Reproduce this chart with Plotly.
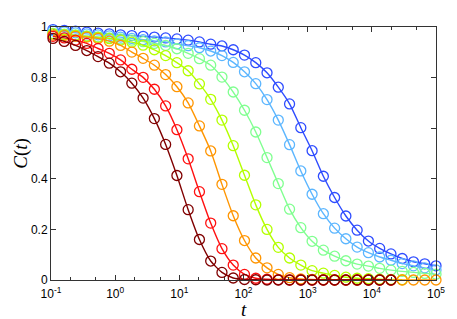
import plotly.graph_objects as go

# sample times (log-spaced grid)
t_vals = [0.1074, 0.1609, 0.2410, 0.3612, 0.5411, 0.8105, 1.214, 1.819, 2.726, 4.083,
          6.117, 9.167, 13.73, 20.57, 30.82, 46.17, 69.18, 103.6, 155.3, 232.6,
          348.5, 522.1, 782.2, 1172, 1756, 2630, 3941, 5904, 8845, 13250,
          19860, 29750, 44570, 66760, 100000]

c_darkred = [0.955, 0.943, 0.927, 0.907, 0.883, 0.857, 0.823, 0.778, 0.719, 0.638,
             0.536, 0.413, 0.278, 0.160, 0.075, 0.030, 0.008, 0.002, 0.001, 0.0,
             0.0, 0.0, 0.0, 0.0, 0.0, 0.0, 0.0, 0.0, 0.0, 0.0, 0.0]
c_red = [0.963, 0.957, 0.948, 0.935, 0.915, 0.896, 0.870, 0.833, 0.801, 0.754,
         0.688, 0.594, 0.479, 0.349, 0.225, 0.124, 0.059, 0.022, 0.007, 0.003,
         0.001, 0.0, 0.0, 0.0, 0.0, 0.0, 0.0, 0.0, 0.0, 0.0, 0.0]
c_orange = [0.968, 0.966, 0.963, 0.960, 0.955, 0.944, 0.927, 0.901, 0.876, 0.849,
            0.812, 0.764, 0.700, 0.609, 0.510, 0.378, 0.254, 0.156, 0.087, 0.048,
            0.022, 0.009, 0.004, 0.002, 0.001, 0.0, 0.0, 0.0, 0.0, 0.0,
            0.0, 0.0, 0.0, 0.0, 0.0]
c_yellow = [0.973, 0.970, 0.967, 0.963, 0.959, 0.954, 0.948, 0.940, 0.928, 0.910,
            0.887, 0.859, 0.827, 0.775, 0.714, 0.632, 0.531, 0.414, 0.297, 0.200,
            0.129, 0.087, 0.059, 0.037, 0.027, 0.018, 0.011, 0.007, 0.005, 0.003,
            0.002, 0.001]
c_green = [0.975, 0.972, 0.969, 0.965, 0.961, 0.957, 0.953, 0.948, 0.942, 0.935,
           0.927, 0.914, 0.896, 0.875, 0.849, 0.802, 0.743, 0.671, 0.585, 0.484,
           0.381, 0.280, 0.207, 0.153, 0.118, 0.094, 0.076, 0.063, 0.055, 0.046,
           0.039, 0.034, 0.030, 0.026, 0.023]
c_lightblue = [0.985, 0.981, 0.977, 0.973, 0.969, 0.965, 0.960, 0.955, 0.950, 0.945,
               0.941, 0.933, 0.926, 0.918, 0.905, 0.887, 0.860, 0.823, 0.776, 0.713,
               0.632, 0.535, 0.431, 0.339, 0.262, 0.205, 0.163, 0.130, 0.108, 0.091,
               0.078, 0.065, 0.056, 0.048, 0.040]
c_blue = [0.990, 0.987, 0.984, 0.980, 0.976, 0.973, 0.969, 0.966, 0.963, 0.960,
          0.957, 0.953, 0.948, 0.941, 0.932, 0.925, 0.910, 0.889, 0.859, 0.819,
          0.762, 0.696, 0.602, 0.511, 0.410, 0.326, 0.253, 0.197, 0.154, 0.125,
          0.103, 0.085, 0.072, 0.064, 0.056]

series = [
    (c_blue, "#2e4cff"),
    (c_lightblue, "#5cb6ff"),
    (c_green, "#80ff90"),
    (c_yellow, "#b4ff00"),
    (c_orange, "#ff9500"),
    (c_red, "#ff1010"),
    (c_darkred, "#800000"),
]

x_tickvals = [0.1, 1, 10, 100, 1000, 10000, 100000]
x_ticktext = ["10<sup>-1</sup>", "10<sup>0</sup>", "10<sup>1</sup>", "10<sup>2</sup>",
              "10<sup>3</sup>", "10<sup>4</sup>", "10<sup>5</sup>"]
y_tickvals = [0, 0.2, 0.4, 0.6, 0.8, 1]
y_ticktext = ["0", "0.2", "0.4", "0.6", "0.8", "1"]

fig = go.Figure()
for vals, col in series:
    fig.add_trace(go.Scatter(
        x=t_vals[:len(vals)], y=vals, mode="lines+markers",
        line=dict(color=col, width=1.4, shape="spline", smoothing=0.6),
        marker=dict(symbol="circle-open", size=10, color=col, line=dict(width=1.3, color=col)),
        cliponaxis=False, showlegend=False, hoverinfo="skip"))

axis_common = dict(showline=True, linecolor="#333333", linewidth=1, mirror="ticks",
                   ticks="inside", tickcolor="#333333", showgrid=False, zeroline=False,
                   tickfont=dict(family="Liberation Sans, Arial, sans-serif", size=12, color="#000"))

fig.update_xaxes(type="log", range=[-1, 5], tickvals=x_tickvals, ticktext=x_ticktext,
                 ticklen=5, ticklabelstandoff=3,
                 minor=dict(ticks="inside", ticklen=3, tickcolor="#333333", showgrid=False),
                 **axis_common)
fig.update_yaxes(range=[0, 1], tickvals=y_tickvals, ticktext=y_ticktext, ticklen=5,
                 **axis_common)

# the page body adds an 8px offset, so the figure is sized/margined to compensate
fig.update_layout(
    width=449, height=311,
    margin=dict(l=43, r=20, t=16, b=39),
    paper_bgcolor="white", plot_bgcolor="white",
    annotations=[
        dict(text="<i>C</i>(<i>t</i>)", xref="paper", yref="paper", x=-0.08, y=0.5,
             xanchor="center", yanchor="middle", textangle=-90, showarrow=False,
             font=dict(family="Liberation Serif, DejaVu Serif, serif", size=19, color="#000")),
        dict(text="<i>t</i>", xref="paper", yref="paper", x=0.5, y=-0.118,
             xanchor="center", yanchor="middle", showarrow=False,
             font=dict(family="Liberation Serif, DejaVu Serif, serif", size=19, color="#000")),
    ],
)

fig.write_html("out.html")
